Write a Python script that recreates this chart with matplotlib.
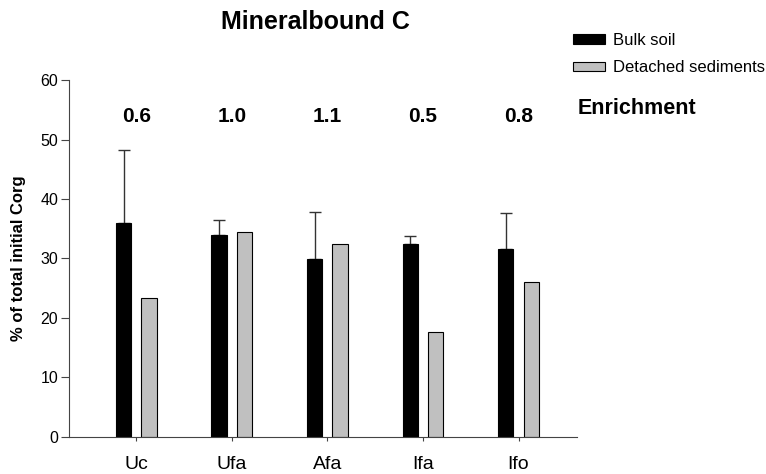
import numpy as np
import matplotlib.pyplot as plt

plt.rcParams['font.family'] = ['Liberation Sans', 'DejaVu Sans']

# data
sites = ["Uc", "Ufa", "Afa", "Ifa", "Ifo"]
bulk_soil = [35.9, 34.0, 29.9, 32.4, 31.6]
bulk_err = [12.3, 2.4, 7.9, 1.4, 6.0]
detached = [23.4, 34.5, 32.4, 17.7, 26.1]
enrichment = ["0.6", "1.0", "1.1", "0.5", "0.8"]

fig = plt.figure(figsize=(7.66, 4.74), dpi=100)
ax = fig.add_axes([0.0905, 0.0787, 0.6625, 0.7523])

x = np.arange(len(sites))
w = 0.16
off = 0.133

ax.bar(x - off, bulk_soil, w, color='black', edgecolor='black', linewidth=0.8,
       label='Bulk soil', zorder=2)
ax.errorbar(x - off, bulk_soil, yerr=[np.zeros(len(bulk_err)), bulk_err],
            fmt='none', ecolor='#333333', elinewidth=1, capsize=4, capthick=1, zorder=1)
ax.bar(x + off, detached, w, color='#c0c0c0', edgecolor='black', linewidth=0.8,
       label='Detached sediments', zorder=2)

# enrichment ratios above each group
for xi, e in zip(x, enrichment):
    ax.text(xi, 53.9, e, ha='center', va='center', fontsize=15, fontweight='bold')
ax.text(4.62, 55.3, "Enrichment", ha='left', va='center', fontsize=15.5,
        fontweight='bold', clip_on=False)

ax.set_xlim(-0.7, 4.61)
ax.set_ylim(0, 60)
ax.set_yticks(np.arange(0, 61, 10))
ax.set_xticks(x)
ax.set_xticklabels(sites, fontsize=14)
ax.tick_params(axis='y', labelsize=11.5, length=6, pad=2, color='#444444')
ax.tick_params(axis='x', length=3, pad=11, color='#444444')
ax.spines['top'].set_visible(False)
ax.spines['right'].set_visible(False)
ax.spines['left'].set_color('#444444')
ax.spines['bottom'].set_color('#444444')
ax.set_ylabel("% of total initial Corg", fontsize=12, fontweight='bold', labelpad=10)

fig.text(0.412, 0.953, "Mineralbound C", ha='center', va='center', fontsize=18,
         fontweight='bold')

ax.legend(loc='upper left', bbox_to_anchor=(0.748, 0.931), bbox_transform=fig.transFigure,
          frameon=False, fontsize=12, handlelength=1.9, handleheight=0.5,
          handletextpad=0.5, labelspacing=0.75, borderpad=0, borderaxespad=0)

fig.savefig("out.png", dpi=100)
